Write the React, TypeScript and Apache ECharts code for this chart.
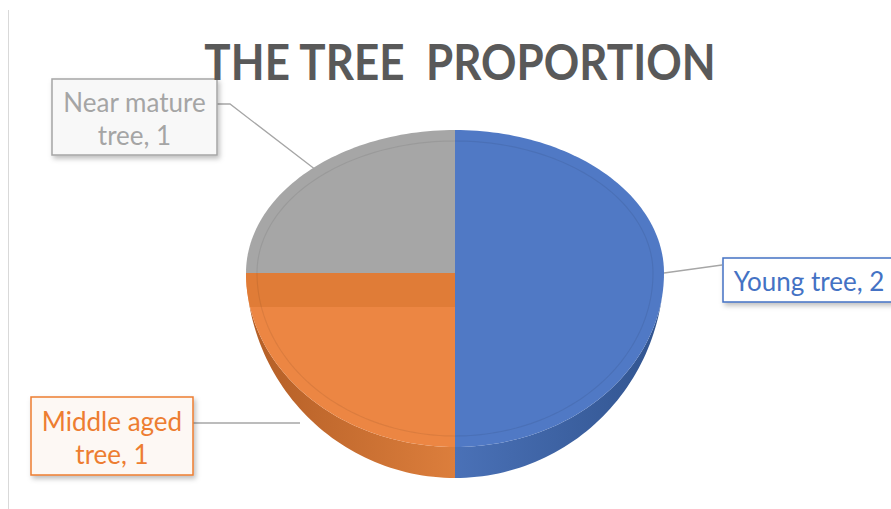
import React, { useEffect, useRef } from 'react';
import * as echarts from 'echarts';

const categories = ['Young tree', 'Middle aged tree', 'Near mature tree'];
const values = [2, 1, 1];
const titleText = 'THE TREE  PROPORTION';

const sliceColors = ['#5079C5', '#EC8643', '#A6A6A6'];
const sideColors = [
  ['#4A71B7', '#31548F'],
  ['#B35E26', '#DC7E3C'],
  ['#8A8A8A', '#9A9A9A'],
];
const textColors = ['#4472C4', '#ED7D31', '#A5A5A5'];
const boxFills = ['#FFFFFF', '#FDF8F4', '#F8F8F8'];

const labelLayout = [
  { x: 723, y: 258, w: 172, h: 44, wrap: false, line: [[664, 273], [722, 265]] },
  { x: 31, y: 397, w: 162, h: 78, wrap: true, line: [[193, 423], [300, 423]] },
  { x: 52, y: 79, w: 165, h: 76, wrap: true, line: [[217, 104], [230, 104], [316, 170]] },
];

const PIE = { cx: 455, cy: 273, rx: 209, ryTop: 143, ryBot: 174, depth: 31, band: 34, inset: 11 };

function pt(theta: number, inset = 0): number[] {
  const r = (theta * Math.PI) / 180;
  const s = Math.sin(r);
  const c = Math.cos(r);
  const ry = (c > 0 ? PIE.ryTop : PIE.ryBot) - inset;
  return [PIE.cx + (PIE.rx - inset) * s, PIE.cy - c * ry];
}

function arc(a0: number, a1: number, inset = 0): number[][] {
  const pts: number[][] = [];
  const n = Math.max(2, Math.ceil(Math.abs(a1 - a0) / 1.5));
  for (let i = 0; i <= n; i++) pts.push(pt(a0 + ((a1 - a0) * i) / n, inset));
  return pts;
}

function sideDepth(theta: number): number {
  const c = -Math.cos((theta * Math.PI) / 180);
  return PIE.depth * Math.max(0, (c - 0.14) / 0.86);
}

export default function App() {
  const ref = useRef<HTMLDivElement>(null);
  useEffect(() => {
    if (!ref.current) return;
    const chart = echarts.init(ref.current, null, { renderer: 'svg' });
    const total = values.reduce((a, b) => a + b, 0);

    const renderItem = (params: any, api: any) => {
      const idx = params.dataIndex;
      let before = 0;
      for (let i = 0; i < idx; i++) before += values[i];
      const a0 = (before / total) * 360;
      const a1 = ((before + api.value(0)) / total) * 360;
      const children: any[] = [];

      // side wall
      const s0 = Math.max(a0, 90);
      const s1 = Math.min(a1, 270);
      if (s1 > s0) {
        const top = arc(s0, s1);
        const bottom = top
          .map((p, i) => {
            const th = s0 + ((s1 - s0) * i) / (top.length - 1);
            return [p[0], p[1] + sideDepth(th)];
          })
          .reverse();
        const xs = top.map((p) => p[0]);
        const xmin = Math.min(...xs);
        const xmax = Math.max(...xs);
        children.push({
          type: 'polygon',
          shape: { points: top.concat(bottom) },
          style: {
            fill: new echarts.graphic.LinearGradient(
              xmin, 0, xmax, 0,
              [
                { offset: 0, color: sideColors[idx][0] },
                { offset: 1, color: sideColors[idx][1] },
              ],
              true
            ),
          },
        });
      }

      // top surface
      children.push({
        type: 'polygon',
        shape: { points: [[PIE.cx, PIE.cy]].concat(arc(a0, a1)) },
        style: { fill: sliceColors[idx] },
      });

      // cut face band where a slice ends at 270deg (seen through perspective)
      if (a0 < 270 && a1 >= 270) {
        const phi = (Math.asin(PIE.band / PIE.ryBot) * 180) / Math.PI;
        const tb = 270 - phi;
        children.push({
          type: 'polygon',
          shape: {
            points: [[PIE.cx, PIE.cy]]
              .concat(arc(270, tb))
              .concat([[PIE.cx, PIE.cy + PIE.band]]),
          },
          style: { fill: '#E07C37' },
        });
      }

      // faint bevel ring on the top surface
      children.push({
        type: 'polyline',
        shape: { points: arc(a0, a1, PIE.inset) },
        style: { stroke: 'rgba(0,0,0,0.07)', lineWidth: 1.2, fill: null },
      });

      // label
      const L = labelLayout[idx];
      const name = categories[idx];
      const shown = (L.wrap ? name.replace(/ (?=\S+$)/, '\n') : name) + ', ' + api.value(0);
      children.push({
        type: 'polyline',
        shape: { points: L.line },
        style: { stroke: '#A6A6A6', lineWidth: 1.3, fill: null },
      });
      children.push({
        type: 'rect',
        shape: { x: L.x, y: L.y, width: L.w, height: L.h },
        style: {
          fill: boxFills[idx],
          stroke: textColors[idx],
          lineWidth: 1.5,
          shadowBlur: 5,
          shadowOffsetX: 2,
          shadowOffsetY: 3,
          shadowColor: 'rgba(0,0,0,0.25)',
        },
      });
      children.push({
        type: 'text',
        style: {
          text: shown,
          x: L.x + L.w / 2,
          y: L.y + L.h / 2 + 1,
          align: 'center',
          verticalAlign: 'middle',
          fontFamily: 'Lato',
          fontSize: 26,
          lineHeight: 33,
          fill: textColors[idx],
        },
      });
      return { type: 'group', children };
    };

    chart.setOption({
      animation: false,
      backgroundColor: '#FFFFFF',
      graphic: [
        {
          type: 'line',
          shape: { x1: 8.5, y1: 10, x2: 8.5, y2: 509 },
          style: { stroke: '#D9D9D9', lineWidth: 1 },
        },
        {
          type: 'text',
          x: 460,
          y: 61,
          scaleY: 1.12,
          z: 10,
          style: {
            text: titleText,
            align: 'center',
            verticalAlign: 'middle',
            fontFamily: 'Lato',
            fontWeight: 'bold',
            fontSize: 44,
            fill: '#595959',
          },
        },
      ],
      series: [
        {
          type: 'custom',
          coordinateSystem: 'none',
          data: values.map((v, i) => ({ value: v, name: categories[i] })),
          renderItem,
        },
      ],
    });
    return () => chart.dispose();
  }, []);
  return (
    <div
      ref={ref}
      style={{ position: 'fixed', left: 0, top: 0, width: 891, height: 509 }}
    />
  );
}
